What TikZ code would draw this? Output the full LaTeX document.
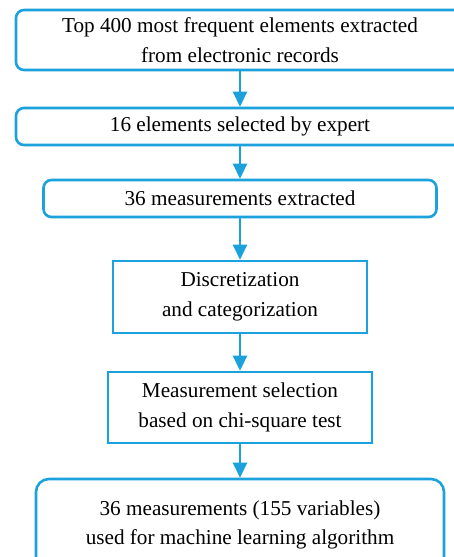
\documentclass[tikz,border=0pt]{standalone}
\usepackage{fontspec}
\setmainfont{Liberation Serif}
\usetikzlibrary{arrows.meta}
\definecolor{flowblue}{RGB}{27,161,219}

\begin{document}
\begin{tikzpicture}[x=1pt,y=-1pt,
  box/.style={draw=flowblue, line width=2.6pt, align=center, inner sep=0pt,
    font=\fontsize{21.2}{29.5}\selectfont},
  roundbox/.style={box, rounded corners=8pt},
  flow/.style={draw=flowblue, line width=2.6pt, -{Triangle[length=15pt,width=14pt]}}]
        \def \cx {240}
        \useasboundingbox (0,0) rectangle (454,557);
        \clip (0,0) rectangle (454,557);
        
        \node[roundbox, minimum width=448pt, minimum height=60pt] at (\cx,40) (top)
          {Top 400 most frequent elements extracted\\from electronic records};
        \node[roundbox, minimum width=448pt, minimum height=37pt] at (\cx,126.5) (expert)
          {16 elements selected by expert};
        \node[roundbox, minimum width=393pt, minimum height=37pt] at (\cx,198.5) (extract)
          {36 measurements extracted};
        \node[box, minimum width=254pt, minimum height=72pt] at (\cx,297) (discrete)
          {Discretization\\and categorization};
        \node[box, minimum width=264pt, minimum height=71pt] at (\cx,407.5) (chisq)
          {Measurement selection\\based on chi-square test};
        \node[roundbox, rounded corners=13pt, minimum width=408pt, minimum height=92pt] at (\cx,525) (final)
          {36 measurements (155 variables)\\used for machine learning algorithm};
        
        \foreach \a/\b in {top/expert,expert/extract,extract/discrete,discrete/chisq,chisq/final}{
          \draw[flow] (\a)--(\b);
        }
\end{tikzpicture}
\end{document}
